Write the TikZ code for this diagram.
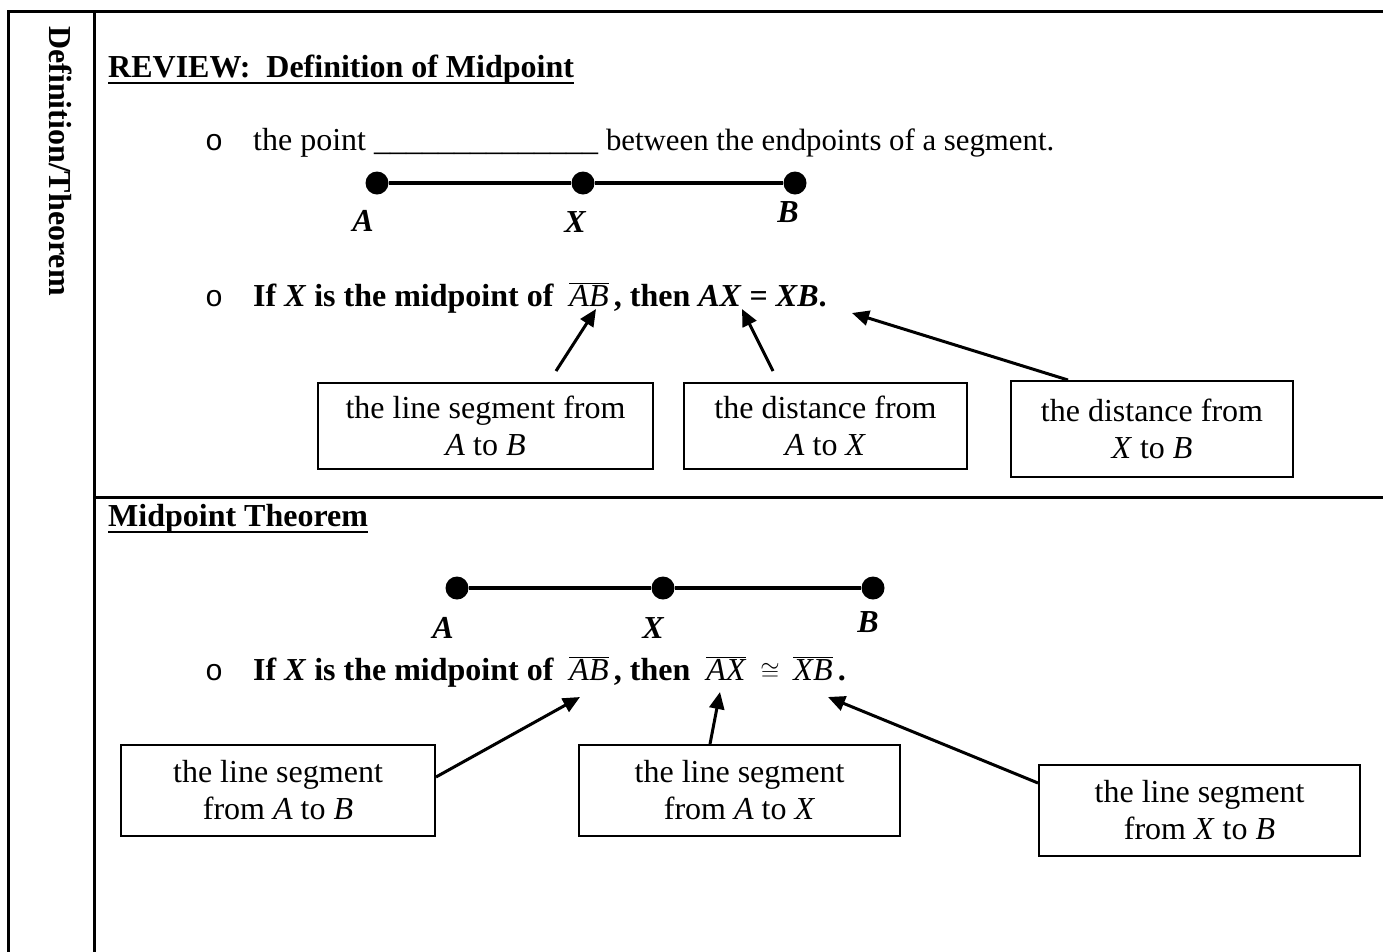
\documentclass[tikz,border=0pt]{standalone}
\usepackage{fontspec}
\setmainfont{Liberation Serif}
\newfontfamily\bulletfont{Liberation Mono}
\usetikzlibrary{arrows.meta}

\tikzset{
  txt/.style={anchor=base west, inner sep=0pt, font=\fontsize{32}{37}\selectfont},
  hd/.style={anchor=base west, inner sep=0pt, font=\fontsize{32}{37}\selectfont\bfseries},
  bul/.style={anchor=base west, inner sep=0pt, font=\bulletfont\fontsize{30}{36}\selectfont},
  lbl/.style={anchor=base, inner sep=0pt, font=\fontsize{32}{37}\selectfont\bfseries\itshape},
  dot/.style={circle, fill, inner sep=0pt, minimum size=23pt},
  seg/.style={line width=4.5pt},
  infobox/.style={draw, line width=2pt, align=center, inner sep=0pt, font=\fontsize{32}{37}\selectfont},
  pointer/.style={line width=3pt, -{Triangle[length=17pt,width=15pt]}},
  rule/.style={line width=3pt},
}

\begin{document}
\begin{tikzpicture}[x=1pt, y=-1pt]
\clip (0,0) rectangle (1383,951);
% table frame
\draw[rule] (8,960) -- (8,11) -- (1400,11);
\draw[rule] (94,11) -- (94,960);
\draw[rule] (94,497) -- (1400,497);
\node[rotate=-90, inner sep=0pt, font=\fontsize{32}{37}\selectfont\bfseries] (side) at (61,161) {Definition/Theorem};

% review: definition of midpoint
\node[hd] (rev) at (108,77) {REVIEW:\ \ Definition of Midpoint};
\draw[line width=2.5pt] ([yshift=-6pt]rev.base west) -- ([yshift=-6pt]rev.base east);
\node[bul] (o1) at (205,150) {o};
\node[txt] (def) at (253,150) {the point \_\_\_\_\_\_\_\_\_\_\_\_\_\_ {\fontsize{30.8}{37}\selectfont between the endpoints of a segment.}};
\node[dot] (A1) at (377,183) {};
\node[dot] (X1) at (583,183) {};
\node[dot] (B1) at (795,183) {};
\draw[seg] (A1) -- (X1) -- (B1);
\node[lbl] (lA1) at (363,231) {A};
\node[lbl] (lX1) at (575,232) {X};
\node[lbl] (lB1) at (788,222) {B};
\node[bul] (o2) at (205,306) {o};
\node[hd] (if1) at (253,306) {If \textit{X} is the midpoint of \ $\overline{\mbox{\mdseries\textit{AB}}}$\,, then \textit{AX} = \textit{XB}.};

\node[infobox, minimum width=335pt, minimum height=86pt] (segAB) at (485.5,426) {the line segment from\\\textit{A} to \textit{B}};
\node[infobox, minimum width=283pt, minimum height=86pt] (distAX) at (825.5,426) {the distance from\\\textit{A} to \textit{X}};
\node[infobox, minimum width=282pt, minimum height=96pt] (distXB) at (1152,429) {the distance from\\\textit{X} to \textit{B}};
\coordinate (tAB) at (596,309);
\coordinate (tAX) at (742,309);
\coordinate (tXB) at (852,313);
\draw[pointer] ([xshift=70.5pt,yshift=11pt]segAB.north) -- (tAB);
\draw[pointer] ([xshift=-52.5pt,yshift=11pt]distAX.north) -- (tAX);
\draw[pointer] ([xshift=-84pt]distXB.north) -- (tXB);

% midpoint theorem
\node[hd] (thm) at (108,526) {Midpoint Theorem};
\draw[line width=2.5pt] ([yshift=-6pt]thm.base west) -- ([yshift=-6pt]thm.base east);
\node[dot] (A2) at (457,588) {};
\node[dot] (X2) at (663,588) {};
\node[dot] (B2) at (873,588) {};
\draw[seg] (A2) -- (X2) -- (B2);
\node[lbl] (lA2) at (443,638) {A};
\node[lbl] (lX2) at (653,638) {X};
\node[lbl] (lB2) at (868,632) {B};
\node[bul] (o3) at (205,680) {o};
\node[hd] (if2) at (253,680) {If \textit{X} is the midpoint of \ $\overline{\mbox{\mdseries\textit{AB}}}$\,, then \ $\overline{\mbox{\mdseries\textit{AX}}}\;\cong\;\overline{\mbox{\mdseries\textit{XB}}}$\,.};

\node[infobox, minimum width=314pt, minimum height=91pt] (lsAB) at (278,790.5) {the line segment\\from \textit{A} to \textit{B}};
\node[infobox, minimum width=321pt, minimum height=91pt] (lsAX) at (739.5,790.5) {the line segment\\from \textit{A} to \textit{X}};
\node[infobox, minimum width=321pt, minimum height=91pt] (lsXB) at (1199.5,810.5) {the line segment\\from \textit{X} to \textit{B}};
\coordinate (uAB) at (580,697);
\coordinate (uAX) at (720,692);
\coordinate (uXB) at (828,697);
\draw[pointer] ([yshift=13.5pt]lsAB.east) -- (uAB);
\draw[pointer] ([xshift=-29.5pt]lsAX.north) -- (uAX);
\draw[pointer] ([yshift=27.5pt]lsXB.west) -- (uXB);
\end{tikzpicture}
\end{document}
